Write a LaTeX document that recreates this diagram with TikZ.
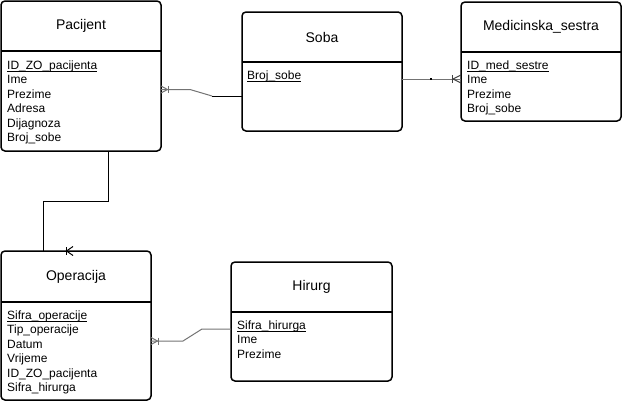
\documentclass[tikz,border=0pt]{standalone}
\usepackage{fontspec}
\setmainfont{Liberation Sans}
\usetikzlibrary{calc}
\newcommand\keyul[1]{\setbox0\hbox{#1}\rlap{\rule[-2pt]{\wd0}{0.9pt}}\box0}
\tikzset{
  entity/.style={draw=black, line width=1.5pt, rounded corners=4pt, outer sep=0pt, inner sep=0pt},
  ttl/.style={font=\fontsize{14}{16}\selectfont, inner sep=0pt},
  attr/.style={font=\fontsize{12}{14}\selectfont, anchor=base west, inner sep=0pt},
  hsep/.style={line width=1.5pt},
  conn/.style={line width=1pt, black!55},
  connk/.style={line width=1pt, black},
}
\begin{document}
\begin{tikzpicture}[x=1pt,y=-1pt]
\useasboundingbox (0,0) rectangle (622,402);
% ---------- Pacijent
\node[entity, minimum width=160pt, minimum height=150pt] (pac) at (81,76) {};
\draw[hsep] (pac.west |- 0,51) -- (pac.east |- 0,51);
\node[ttl] (pacT) at (81,26) {Pacijent};
\node[attr] (pacK) at (7,69.5) {\keyul{ID\_ZO\_pacijenta}};
\foreach \t [count=\i] in {Ime,Prezime,Adresa,Dijagnoza,Broj\_sobe}
  \node[attr] (pacA\i) at (7,{69.5+14.4*\i}) {\t};
% ---------- Soba
\node[entity, minimum width=160pt, minimum height=119pt] (soba) at (322,71.5) {};
\draw[hsep] (soba.west |- 0,62) -- (soba.east |- 0,62);
\node[ttl] (sobaT) at (322,37) {Soba};
\node[attr] (sobaK) at (247,79.5) {\keyul{Broj\_sobe}};
% ---------- Medicinska_sestra
\node[entity, minimum width=160pt, minimum height=119pt] (med) at (541,61.5) {};
\draw[hsep] (med.west |- 0,52) -- (med.east |- 0,52);
\node[ttl] (medT) at (541,27) {Medicinska\_sestra};
\node[attr] (medK) at (467,69.5) {\keyul{ID\_med\_sestre}};
\foreach \t [count=\i] in {Ime,Prezime,Broj\_sobe}
  \node[attr] (medA\i) at (467,{69.5+14.4*\i}) {\t};
% ---------- Operacija
\node[entity, minimum width=150pt, minimum height=149pt] (op) at (76,325.5) {};
\draw[hsep] (op.west |- 0,302) -- (op.east |- 0,302);
\node[ttl] (opT) at (76,276.5) {Operacija};
\node[attr] (opK) at (7,319.5) {\keyul{Sifra\_operacije}};
\foreach \t [count=\i] in {Tip\_operacije,Datum,Vrijeme,ID\_ZO\_pacijenta,Sifra\_hirurga}
  \node[attr] (opA\i) at (7,{319.5+14.4*\i}) {\t};
% ---------- Hirurg
\node[entity, minimum width=161pt, minimum height=119pt] (hir) at (311.5,321.5) {};
\draw[hsep] (hir.west |- 0,312) -- (hir.east |- 0,312);
\node[ttl] (hirT) at (311.5,287) {Hirurg};
\node[attr] (hirK) at (237,329.5) {\keyul{Sifra\_hirurga}};
\foreach \t [count=\i] in {Ime,Prezime}
  \node[attr] (hirA\i) at (237,{329.5+14.4*\i}) {\t};

% ---------- Pacijent -- Soba
\coordinate (ps1) at (190,89.5);
\coordinate (ps2) at (212,96);
\draw[conn] (pac.east |- ps1) -- (ps1) -- (ps2);
\draw[connk] (ps2) -- (soba.west |- ps2);
\coordinate (psE) at (pac.east |- ps1);
\draw[conn] ($(psE)+(0,-3.5)$) -- ($(psE)+(6.5,0)$) -- ($(psE)+(0,3.5)$);
\draw[conn] ($(psE)+(7,-3.5)$) -- ($(psE)+(7,3.5)$);

% ---------- Soba -- Medicinska_sestra
\coordinate (smE) at (med.west |- 0,79);
\draw[conn] (soba.east |- smE) -- (smE);
\fill[black] (430,78.4) rectangle (431.5,79.6);
\draw[connk, black!75] ($(smE)+(-9,-4)$) -- ($(smE)+(-9,4)$);
\draw[connk, black!75] ($(smE)+(0,-4)$) -- ($(smE)+(-8,0)$) -- ($(smE)+(0,4)$);

% ---------- Pacijent -- Operacija
\coordinate (po1) at (108,201);
\coordinate (po2) at (43,201);
\draw[connk] (pac.south -| po1) -- (po1) -- (po2) -- (op.north -| po2);
\coordinate (poK) at (op.north -| 66,0);
\draw[connk] ($(poK)+(0,-4)$) -- ($(poK)+(0,4)$);
\draw[connk] ($(poK)+(7,-4.5)$) -- ($(poK)+(0.5,0)$) -- ($(poK)+(7,4.5)$);

% ---------- Operacija -- Hirurg
\coordinate (oh1) at (183,341);
\coordinate (oh2) at (202,329);
\draw[conn] (op.east |- oh1) -- (oh1) -- (oh2) -- (hir.west |- oh2);
\coordinate (ohE) at (op.east |- oh1);
\draw[conn] ($(ohE)+(0,-3.5)$) -- ($(ohE)+(6.5,0)$) -- ($(ohE)+(0,3.5)$);
\draw[conn] ($(ohE)+(7,-3.5)$) -- ($(ohE)+(7,3.5)$);
\end{tikzpicture}
\end{document}
